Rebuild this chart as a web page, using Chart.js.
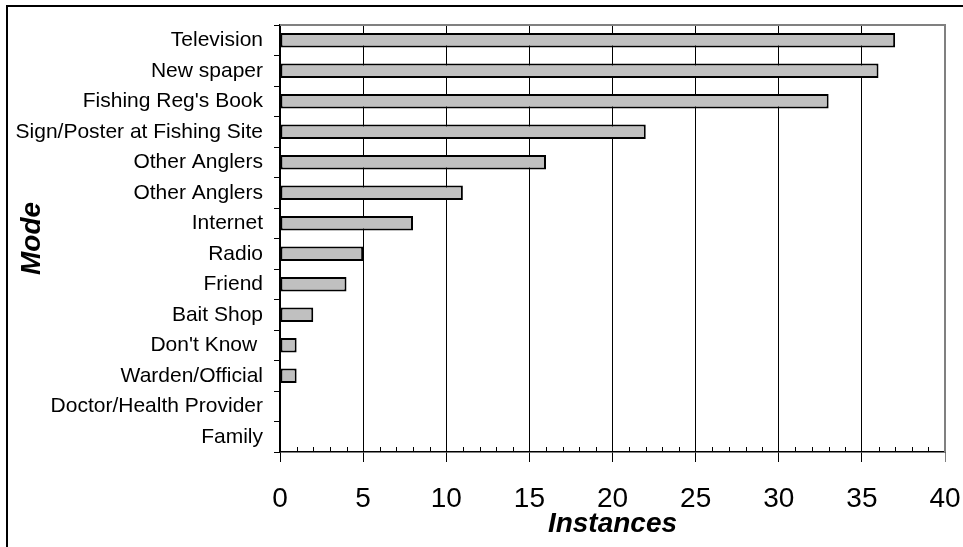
<!DOCTYPE html>
<html>
<head>
<meta charset="utf-8">
<script src="https://cdn.jsdelivr.net/npm/chart.js@4"></script>
<style>
  html, body { margin: 0; padding: 0; background: #fff; }
  #wrap { width: 963px; height: 547px; position: relative; }
</style>
</head>
<body>
<div id="wrap"><canvas id="chart" width="963" height="547"></canvas></div>
<script>
// data
const modes = [
  'Television', 'New spaper', "Fishing Reg's Book", 'Sign/Poster at Fishing Site',
  'Other Anglers', 'Other Anglers', 'Internet', 'Radio', 'Friend', 'Bait Shop',
  "Don't Know ", 'Warden/Official', 'Doctor/Health Provider', 'Family'
];
const instances = [37, 36, 33, 22, 16, 11, 8, 5, 4, 2, 1, 1, 0, 0];
const xTicks = [0, 5, 10, 15, 20, 25, 30, 35, 40];

const FONT = "'Liberation Sans', Arial, sans-serif";

// frame, gray plot border and minor ticks
const extras = {
  id: 'extras',
  afterDraw(chart) {
    const ctx = chart.ctx;
    const a = chart.chartArea;
    const x = chart.scales.x;
    ctx.save();
    // outer frame (left + top only)
    ctx.strokeStyle = '#000';
    ctx.lineWidth = 2;
    ctx.beginPath();
    ctx.moveTo(7, 547);
    ctx.lineTo(7, 6);
    ctx.lineTo(963, 6);
    ctx.stroke();
    // gray top / right border of plot
    ctx.strokeStyle = '#808080';
    ctx.lineWidth = 2;
    ctx.beginPath();
    ctx.moveTo(a.left, a.top);
    ctx.lineTo(a.right, a.top);
    ctx.lineTo(a.right, a.bottom);
    ctx.stroke();
    // minor ticks every 1 unit, pointing inward
    ctx.strokeStyle = '#000';
    ctx.lineWidth = 1;
    ctx.beginPath();
    for (let v = 0; v <= 40; v++) {
      if (v % 5 === 0) continue;
      const px = Math.round(x.getPixelForValue(v)) + 0.5;
      ctx.moveTo(px, a.bottom);
      ctx.lineTo(px, a.bottom - 5);
    }
    ctx.stroke();
    ctx.restore();
  }
};

new Chart(document.getElementById('chart'), {
  type: 'bar',
  data: {
    labels: modes,
    datasets: [{
      label: 'Instances',
      data: instances,
      backgroundColor: '#c0c0c0',
      borderColor: '#000',
      borderWidth: 2,
      borderSkipped: false,
      categoryPercentage: 1,
      barPercentage: 0.48
    }]
  },
  options: {
    indexAxis: 'y',
    responsive: false,
    animation: false,
    layout: { padding: { top: 25, right: 18, left: 0, bottom: 0 } },
    plugins: {
      legend: { display: false },
      tooltip: { enabled: false }
    },
    scales: {
      x: {
        min: 0,
        max: 40,
        afterBuildTicks: s => { s.ticks = xTicks.map(v => ({ value: v })); },
        afterFit: s => {
          s.height = 95;
          s.paddingLeft = 0;
          s.paddingRight = 0;
        },
        ticks: {
          color: '#000',
          font: { family: FONT, size: 28 },
          padding: 20,
          maxRotation: 0
        },
        grid: {
          color: c => (c.tick && c.tick.value === 40 ? '#808080' : '#000'),
          lineWidth: 1,
          tickLength: 10
        },
        border: { color: '#000', width: 1.5 },
        title: {
          display: true,
          text: 'Instances',
          color: '#000',
          font: { family: FONT, size: 28, weight: 'bold', style: 'italic' },
          padding: 6
        }
      },
      y: {
        afterFit: s => { s.width = 280; },
        ticks: {
          color: '#000',
          font: { family: FONT, size: 21 },
          padding: 11,
          autoSkip: false
        },
        grid: {
          drawOnChartArea: false,
          drawTicks: true,
          tickLength: 6,
          color: '#000'
        },
        border: { color: '#000', width: 1.5 },
        title: {
          display: true,
          text: 'Mode',
          color: '#000',
          font: { family: FONT, size: 28, weight: 'bold', style: 'italic' },
          padding: 15
        }
      }
    }
  },
  plugins: [extras]
});
</script>
</body>
</html>
